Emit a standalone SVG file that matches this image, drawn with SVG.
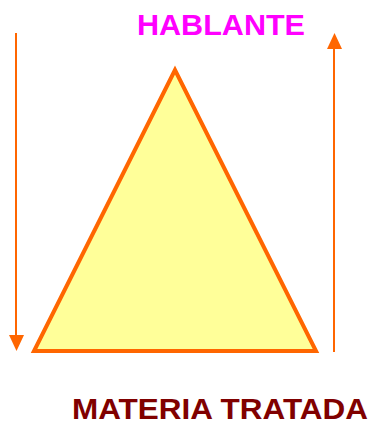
<svg xmlns="http://www.w3.org/2000/svg" width="370" height="426" viewBox="0 0 370 426">
<style>
.arr{stroke:#FF6600;stroke-width:2;fill:none}
.head{fill:#FF6600}
.lbl{font-family:"Liberation Sans",Arial,sans-serif;font-weight:bold;font-size:30px}
</style>
<g id="connectors">
<line class="arr" x1="16" y1="33" x2="16" y2="337"/>
<path class="head" d="M9,335 L24,335 L16.5,351 Z"/>
<line class="arr" x1="334" y1="352" x2="334" y2="48"/>
<path class="head" d="M327,49 L342,49 L334.5,33 Z"/>
</g>
<g id="triangle">
<polygon points="175,70 34,351 316,351" fill="#FFFF99" stroke="#FF6600" stroke-width="4" stroke-linejoin="miter"/>
</g>
<g id="hablante">
<text class="lbl" x="137" y="35" fill="#FF00FF" textLength="168" lengthAdjust="spacingAndGlyphs">HABLANTE</text>
</g>
<g id="materia">
<text class="lbl" x="72" y="419" fill="#800000" textLength="296" lengthAdjust="spacingAndGlyphs">MATERIA TRATADA</text>
</g>
</svg>
